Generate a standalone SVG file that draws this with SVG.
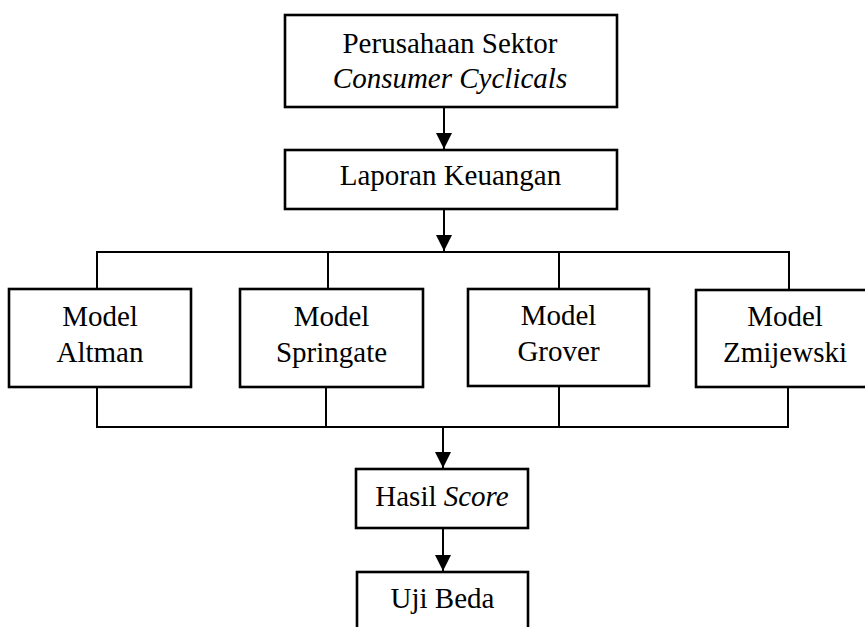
<svg xmlns="http://www.w3.org/2000/svg" width="865" height="627" viewBox="0 0 865 627">
<defs>
<style>
.box{fill:#fff;stroke:#000;stroke-width:2.6}
.ln{fill:none;stroke:#000;stroke-width:2}
.t{font-family:"Liberation Serif","Times New Roman",serif;font-size:29px;fill:#000;text-anchor:middle}
.i{font-style:italic}
</style>
<marker id="ah" markerUnits="userSpaceOnUse" markerWidth="16" markerHeight="16" viewBox="0 0 16 16" refX="16" refY="8" orient="auto">
<path d="M0,0 L16,8 L0,16 Z" fill="#000"/>
</marker>
</defs>
<rect width="865" height="627" fill="#fff"/>
<g id="connectors">
<line class="ln" x1="444" y1="107" x2="444" y2="149" marker-end="url(#ah)"/>
<line class="ln" x1="444" y1="209" x2="444" y2="251" marker-end="url(#ah)"/>
<polyline class="ln" points="97,289 97,252 789,252 789,290"/>
<line class="ln" x1="328" y1="252" x2="328" y2="289"/>
<line class="ln" x1="559" y1="252" x2="559" y2="289"/>
<polyline class="ln" points="97,387 97,427 788,427 788,387"/>
<line class="ln" x1="326" y1="387" x2="326" y2="427"/>
<line class="ln" x1="559" y1="386" x2="559" y2="427"/>
<line class="ln" x1="443" y1="427" x2="443" y2="468" marker-end="url(#ah)"/>
<line class="ln" x1="443" y1="528" x2="443" y2="571" marker-end="url(#ah)"/>
</g>
<g id="perusahaan">
<rect class="box" x="285" y="15" width="332" height="92"/>
<text class="t" x="450" y="53">Perusahaan Sektor</text>
<text class="t i" x="450" y="88">Consumer Cyclicals</text>
</g>
<g id="laporan">
<rect class="box" x="285" y="150" width="332" height="59"/>
<text class="t" x="450.5" y="185">Laporan Keuangan</text>
</g>
<g id="altman">
<rect class="box" x="9" y="289" width="182" height="98"/>
<text class="t" x="100" y="326">Model</text>
<text class="t" x="100" y="362">Altman</text>
</g>
<g id="springate">
<rect class="box" x="240" y="289" width="183" height="98"/>
<text class="t" x="331.5" y="326">Model</text>
<text class="t" x="331.5" y="362">Springate</text>
</g>
<g id="grover">
<rect class="box" x="468" y="289" width="181" height="97"/>
<text class="t" x="558.5" y="325">Model</text>
<text class="t" x="558.5" y="361">Grover</text>
</g>
<g id="zmijewski">
<rect class="box" x="696" y="290" width="172" height="97"/>
<text class="t" x="785" y="326">Model</text>
<text class="t" x="785" y="362">Zmijewski</text>
</g>
<g id="hasil">
<rect class="box" x="356" y="469" width="172" height="59"/>
<text class="t" x="442" y="506">Hasil <tspan class="i">Score</tspan></text>
</g>
<g id="uji">
<rect class="box" x="357" y="572" width="171" height="70"/>
<text class="t" x="442.5" y="608">Uji Beda</text>
</g>
</svg>
